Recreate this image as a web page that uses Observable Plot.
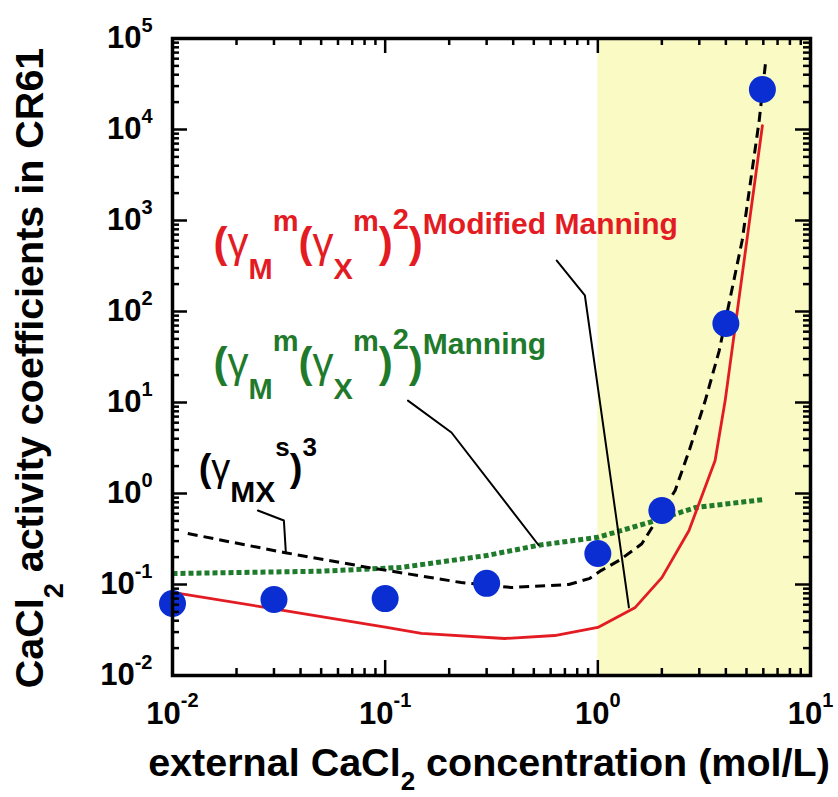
<!DOCTYPE html>
<html>
<head>
<meta charset="utf-8">
<script src="https://cdn.jsdelivr.net/npm/d3@7"></script>
<script src="https://cdn.jsdelivr.net/npm/@observablehq/plot@0.6"></script>
<style>
  body { margin: 0; background: #fff; }
  svg { font-family: "Liberation Sans", Arial, Helvetica, sans-serif; }
  #note { position: absolute; left: 0; top: 0; width: 1px; height: 1px; }
</style>
</head>
<body>
<div id="chart"></div>
<div id="note"></div>
<script>
// ---- measured data (blue circles) ----
const measuredConc = [0.01, 0.03, 0.1, 0.3, 1.0, 2.0, 4.0, 5.94];
const measuredGamma = [0.0618, 0.0684, 0.070, 0.103, 0.219, 0.65, 73.8, 27500];

// ---- (gamma_M^m (gamma_X^m)^2)^Modified Manning : red solid ----
const modManningConc = [0.01, 0.03, 0.1, 0.148, 0.364, 0.627, 1.0, 1.5, 2.0, 2.68, 3.56, 3.97, 5.94];
const modManningGamma = [0.082, 0.054, 0.034, 0.029, 0.0255, 0.0275, 0.0337, 0.056, 0.119, 0.39, 2.3, 10.5, 11000];

// ---- (gamma_M^m (gamma_X^m)^2)^Manning : green dotted ----
const manningConc = [0.01, 0.05, 0.119, 0.3, 0.527, 1.0, 1.74, 2.87, 6.07];
const manningGamma = [0.132, 0.140, 0.154, 0.208, 0.27, 0.33, 0.48, 0.70, 0.86];

// ---- (gamma_MX^s)^3 : black dashed ----
const mxConc = [0.0118, 0.0334, 0.083, 0.148, 0.228, 0.393, 0.73, 0.91, 1.04, 1.26, 1.61, 2.31, 2.69, 3.2, 3.72, 4.77, 5.74, 6.14];
const mxGamma = [0.363, 0.225, 0.154, 0.124, 0.105, 0.0927, 0.1, 0.116, 0.143, 0.184, 0.28, 1.08, 2.97, 10.5, 37, 600, 12600, 53000];

// ---- annotation leader lines ----
const leaderModConc = [0.641, 0.869, 1.40];
const leaderModGamma = [363, 150, 0.056];
const leaderManConc = [0.128, 0.205, 0.527];
const leaderManGamma = [10.5, 4.68, 0.27];
const leaderMxConc = [0.0252, 0.0334, 0.0341];
const leaderMxGamma = [0.65, 0.505, 0.23];

// ---- shaded region ----
const shadedFrom = [1];
const shadedTo = [10];

// ---- annotation anchors (data coordinates) ----
const labelKeys = ["modified", "manning", "mx"];
const labelConc = [0.0156, 0.0156, 0.01327];
const labelGamma = [402, 19.3, 1.355];

// ---- ticks ----
const xMajorTicks = [0.01, 0.1, 1, 10];
const yMajorTicks = [0.01, 0.1, 1, 10, 100, 1000, 10000, 100000];
const xDomain = [0.01, 10];
const yDomain = [0.01, 100000];

{
  const pts = (xs, ys) => xs.map((x, i) => ({x, y: ys[i]}));
  const isMajor = (v) => Math.abs(Math.log10(v) - Math.round(Math.log10(v))) < 1e-9;
  const xMinorTicks = d3.scaleLog().domain(xDomain).ticks().filter(v => !isMajor(v));
  const yMinorTicks = d3.scaleLog().domain(yDomain).ticks().filter(v => !isMajor(v));

  const W = 838, H = 797, mT = 38, mR = 28, mB = 122, mL = 172;
  const innerW = W - mL - mR, innerH = H - mT - mB;
  const majorLen = 15, minorLen = 7;
  const RED = "#e31b23", GREEN = "#1f7a2c", BLUE = "#0a2ed2", YELLOW = "#fafac5";

  const chartEl = Plot.plot({
    width: W, height: H, marginTop: mT, marginRight: mR, marginBottom: mB, marginLeft: mL,
    x: {type: "log", domain: xDomain},
    y: {type: "log", domain: yDomain},
    marks: [
      Plot.rect(shadedFrom.map((f, i) => ({from: f, to: shadedTo[i]})), {x1: "from", x2: "to", fill: YELLOW}),
      Plot.line(pts(manningConc, manningGamma), {x: "x", y: "y", stroke: GREEN, strokeWidth: 5, strokeDasharray: "5,3", strokeLinecap: "butt"}),
      Plot.line(pts(mxConc, mxGamma), {x: "x", y: "y", stroke: "black", strokeWidth: 3, strokeDasharray: "10,6", strokeLinecap: "butt"}),
      Plot.line(pts(modManningConc, modManningGamma), {x: "x", y: "y", stroke: RED, strokeWidth: 2.8}),
      Plot.line(pts(leaderModConc, leaderModGamma), {x: "x", y: "y", stroke: "black", strokeWidth: 2}),
      Plot.line(pts(leaderManConc, leaderManGamma), {x: "x", y: "y", stroke: "black", strokeWidth: 2}),
      Plot.line(pts(leaderMxConc, leaderMxGamma), {x: "x", y: "y", stroke: "black", strokeWidth: 2}),
      Plot.dot(pts(measuredConc, measuredGamma), {x: "x", y: "y", r: 13.5, fill: BLUE}),
      Plot.frame({stroke: "black", strokeWidth: 3.5}),
      Plot.ruleX(xMajorTicks, {x: d => d, insetTop: innerH - majorLen, stroke: "black", strokeWidth: 2.5}),
      Plot.ruleX(xMinorTicks, {x: d => d, insetTop: innerH - minorLen, stroke: "black", strokeWidth: 2.5}),
      Plot.ruleX(xMajorTicks, {x: d => d, insetBottom: innerH - majorLen, stroke: "black", strokeWidth: 2.5}),
      Plot.ruleX(xMinorTicks, {x: d => d, insetBottom: innerH - minorLen, stroke: "black", strokeWidth: 2.5}),
      Plot.ruleY(yMajorTicks, {y: d => d, insetRight: innerW - majorLen, stroke: "black", strokeWidth: 2.5}),
      Plot.ruleY(yMinorTicks, {y: d => d, insetRight: innerW - minorLen, stroke: "black", strokeWidth: 2.5}),
      Plot.ruleY(yMajorTicks, {y: d => d, insetLeft: innerW - majorLen, stroke: "black", strokeWidth: 2.5}),
      Plot.ruleY(yMinorTicks, {y: d => d, insetLeft: innerW - minorLen, stroke: "black", strokeWidth: 2.5}),
      Plot.axisX(xMajorTicks, {anchor: "bottom", tickSize: 0, tickPadding: 26, label: null,
        tickFormat: d => String(Math.round(Math.log10(d))), fontSize: 31}),
      Plot.axisY(yMajorTicks, {anchor: "left", tickSize: 0, tickPadding: 20, label: null,
        tickFormat: d => String(Math.round(Math.log10(d))), fontSize: 31}),
      Plot.text(labelKeys.map((k, i) => ({k, x: labelConc[i], y: labelGamma[i]})),
        {x: "x", y: "y", text: "k", textAnchor: "start", lineAnchor: "bottom", fontSize: 42})
    ]
  });
  document.getElementById("chart").appendChild(chartEl);
  const rootSel = d3.select(chartEl);
  const NS = "http://www.w3.org/2000/svg";

  // render rule lines as explicit paths with their own stroke attributes
  rootSel.selectAll("line").each(function() {
    const g = this.parentNode;
    const p = document.createElementNS(NS, "path");
    const a = (n) => this.getAttribute(n);
    p.setAttribute("d", `M${a("x1")},${a("y1")}L${a("x2")},${a("y2")}`);
    p.setAttribute("stroke", g.getAttribute("stroke") || "black");
    p.setAttribute("stroke-width", g.getAttribute("stroke-width") || 2.5);
    p.setAttribute("fill", "none");
    g.replaceChild(p, this);
  });
  const frameEl = chartEl.querySelector('[aria-label="frame"]');
  if (frameEl) { frameEl.setAttribute("stroke", "black"); frameEl.setAttribute("stroke-width", 3.5); frameEl.setAttribute("fill", "none"); }

  const rich = (textEl, parts) => {
    textEl.textContent = "";
    let cur = 0;
    for (const p of parts) {
      const ts = document.createElementNS(NS, "tspan");
      ts.textContent = p.t;
      const s = p.shift || 0;
      if (s !== cur) ts.setAttribute("dy", s - cur);
      cur = s;
      if (p.size) ts.setAttribute("font-size", p.size);
      if (p.weight) ts.setAttribute("font-weight", p.weight);
      textEl.appendChild(ts);
    }
  };

  // tick labels: "10" with a superscript exponent
  rootSel.selectAll('g[aria-label="x-axis tick label"] text').each(function() {
    const e = this.textContent;
    this.setAttribute("font-weight", "bold");
    this.setAttribute("font-size", 31);
    this.setAttribute("fill", "black");
    rich(this, [{t: "10"}, {t: e, size: 20, shift: -17}]);
  });
  rootSel.selectAll('g[aria-label="y-axis tick label"] text').each(function() {
    const e = this.textContent;
    this.setAttribute("font-weight", "bold");
    this.setAttribute("font-size", 31);
    this.setAttribute("fill", "black");
    rich(this, [{t: "10"}, {t: e, size: 20, shift: -16}]);
  });

  // annotation labels
  const labelParts = {
    modified: {color: RED, parts: [
      {t: "(", size: 42}, {t: "γ", size: 42, weight: "normal"}, {t: "M", size: 29, shift: 22},
      {t: "m", size: 29, shift: -26}, {t: "(", size: 42, shift: 0}, {t: "γ", size: 42, weight: "normal"},
      {t: "X", size: 29, shift: 22}, {t: "m", size: 29, shift: -26}, {t: ")", size: 42, shift: 0},
      {t: "2", size: 29, shift: -28}, {t: ")", size: 42, shift: 0}, {t: "Modified Manning", size: 30, shift: -23}]},
    manning: {color: GREEN, parts: [
      {t: "(", size: 42}, {t: "γ", size: 42, weight: "normal"}, {t: "M", size: 29, shift: 22},
      {t: "m", size: 29, shift: -26}, {t: "(", size: 42, shift: 0}, {t: "γ", size: 42, weight: "normal"},
      {t: "X", size: 29, shift: 22}, {t: "m", size: 29, shift: -26}, {t: ")", size: 42, shift: 0},
      {t: "2", size: 29, shift: -28}, {t: ")", size: 42, shift: 0}, {t: "Manning", size: 30, shift: -23}]},
    mx: {color: "black", parts: [
      {t: "(", size: 38}, {t: "γ", size: 38, weight: "normal"}, {t: "MX", size: 30, shift: 21},
      {t: "s", size: 26, shift: -25}, {t: ")", size: 38, shift: 0}, {t: "3", size: 26, shift: -25}]}
  };
  rootSel.selectAll('g[aria-label="text"] text').each(function() {
    const spec = labelParts[this.textContent];
    if (!spec) return;
    this.removeAttribute("y");
    this.removeAttribute("dy");
    this.setAttribute("fill", spec.color);
    this.setAttribute("font-weight", "bold");
    rich(this, spec.parts);
  });

  // axis titles
  const xt = rootSel.append("text")
    .attr("x", 489).attr("y", 776)
    .attr("text-anchor", "middle").attr("font-size", 39.5).attr("font-weight", "bold").attr("fill", "black");
  rich(xt.node(), [{t: "external CaCl"}, {t: "2", size: 26, shift: 14}, {t: " concentration (mol/L)", shift: 0}]);

  const yt = rootSel.append("text")
    .attr("transform", "translate(43,368) rotate(-90)")
    .attr("text-anchor", "middle").attr("font-size", 39.5).attr("font-weight", "bold").attr("fill", "black");
  rich(yt.node(), [{t: "CaCl"}, {t: "2", size: 27, shift: 20}, {t: " activity coefficients in CR61", shift: 0}]);
}
</script>
</body>
</html>
